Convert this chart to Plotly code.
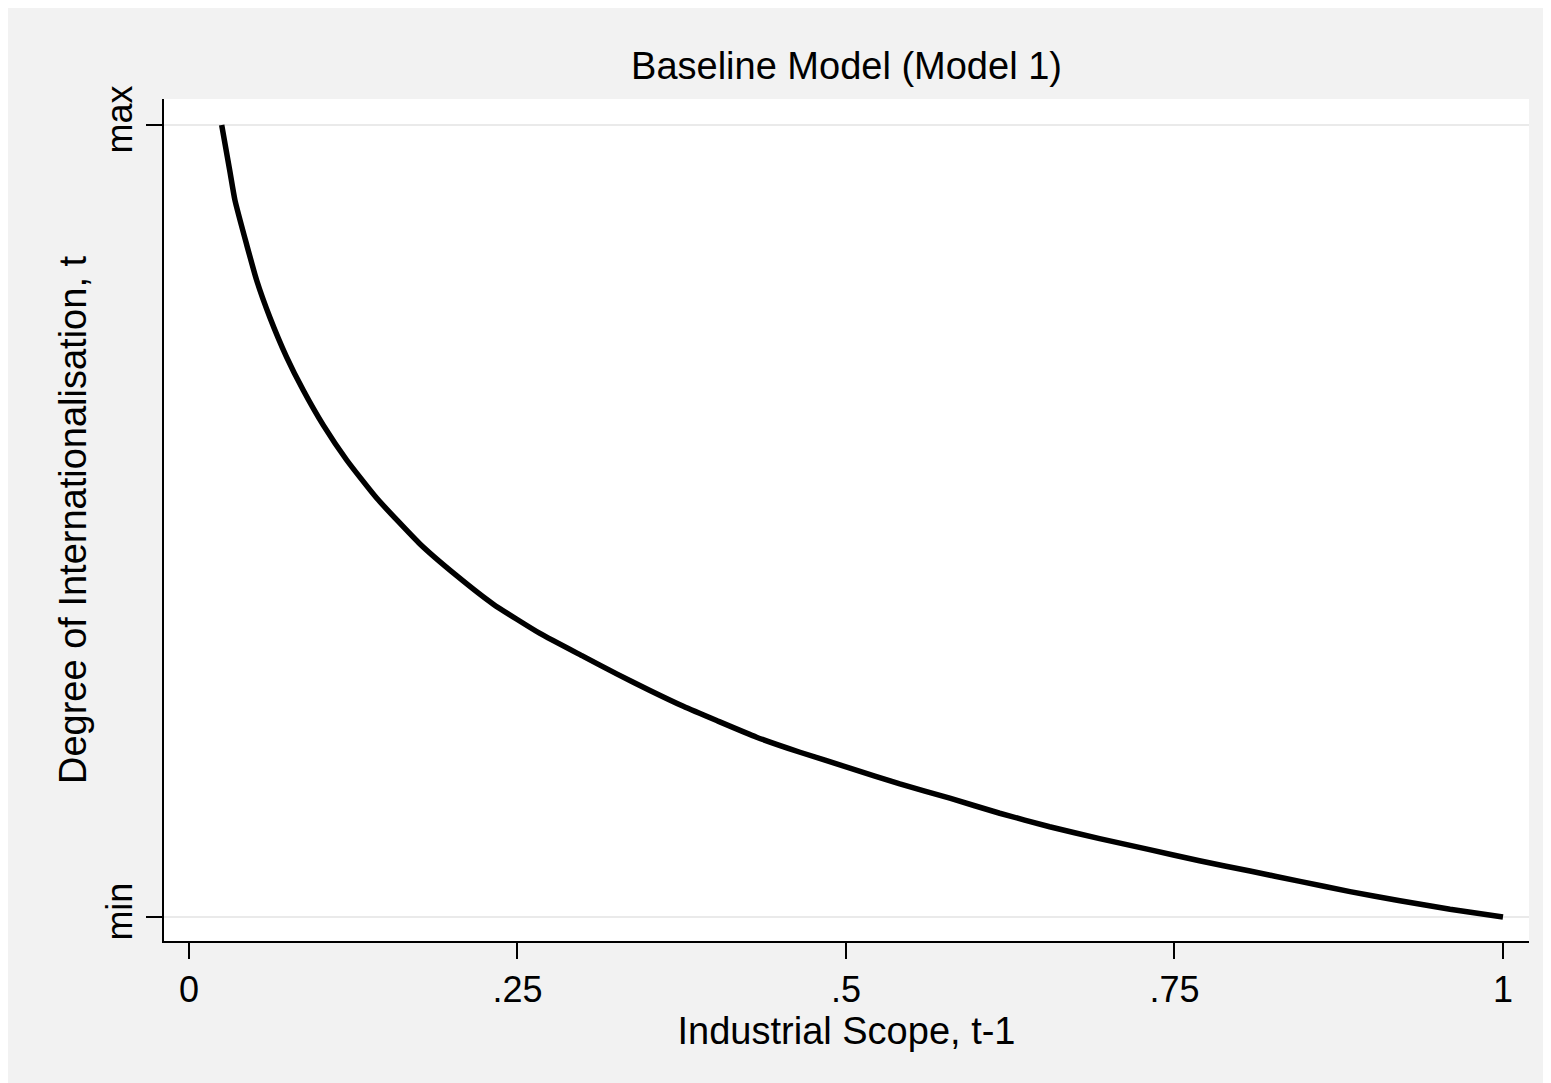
import plotly.graph_objects as go

# Data (y normalised: min = 0, max = 1)
x_scope = [0.0249, 0.0312, 0.0350, 0.0439, 0.0515, 0.0616, 0.0743, 0.0870, 0.1022, 0.1200,
           0.1428, 0.1758, 0.2037, 0.2316, 0.2671, 0.3001, 0.3255, 0.3508, 0.3762, 0.4016,
           0.4320, 0.4650, 0.5030, 0.5410, 0.5790, 0.6170, 0.6550, 0.6930, 0.7310, 0.7690,
           0.8075, 0.8455, 0.8836, 0.9216, 0.9597, 1.0000]
y_doi = [1.000, 0.941, 0.905, 0.849, 0.804, 0.757, 0.707, 0.665, 0.621, 0.577,
         0.529, 0.471, 0.431, 0.395, 0.358, 0.329, 0.307, 0.286, 0.266, 0.248,
         0.227, 0.208, 0.188, 0.168, 0.150, 0.131, 0.114, 0.099, 0.085, 0.071,
         0.058, 0.045, 0.032, 0.0206, 0.0097, 0.000]

x_tickvals = [0, 0.25, 0.5, 0.75, 1]
x_ticktext = ["0", ".25", ".5", ".75", "1"]
y_tickvals = [0, 1]
y_ticktext = ["min", "max"]

FONT = "Liberation Sans, Arial, sans-serif"
W, H = 1551, 1083
L, R, T, B = 156, 30, 91, 150

fig = go.Figure()
fig.add_trace(go.Scatter(
    x=x_scope, y=y_doi, mode="lines",
    line=dict(color="black", width=5.5, shape="spline", smoothing=0.5),
    showlegend=False, hoverinfo="skip"))

fig.update_layout(
    width=W, height=H,
    margin=dict(l=L, r=R, t=T, b=B, pad=0),
    paper_bgcolor="#f2f2f2", plot_bgcolor="white",
    font=dict(family=FONT, color="black", size=36),
    title=dict(text="Baseline Model (Model 1)", x=(L + (W - L - R) / 2) / W, xanchor="center",
               y=1 - 58 / H, yanchor="middle", yref="container",
               font=dict(family=FONT, size=38, color="black")),
)
fig.update_xaxes(
    range=[-0.019, 1.0198], tickvals=x_tickvals, ticktext=x_ticktext,
    showgrid=False, zeroline=False, showline=True, linecolor="black", linewidth=2,
    ticks="outside", ticklen=16, tickwidth=2, tickcolor="black",
    tickfont=dict(family=FONT, size=36, color="black"),
    title=dict(text="Industrial Scope, t-1", standoff=0,
               font=dict(family=FONT, size=38, color="black")),
)
fig.update_yaxes(
    range=[-0.0303, 1.0328], tickvals=y_tickvals, ticktext=y_ticktext, tickangle=-90,
    showgrid=True, gridcolor="#eaeaea", gridwidth=2,
    zeroline=False, showline=True, linecolor="black", linewidth=2,
    ticks="outside", ticklen=16, tickwidth=2, tickcolor="black",
    tickfont=dict(family=FONT, size=36, color="black"),
    title=dict(text="Degree of Internationalisation, t", standoff=0,
               font=dict(family=FONT, size=38, color="black")),
)

fig.write_html("out.html")
